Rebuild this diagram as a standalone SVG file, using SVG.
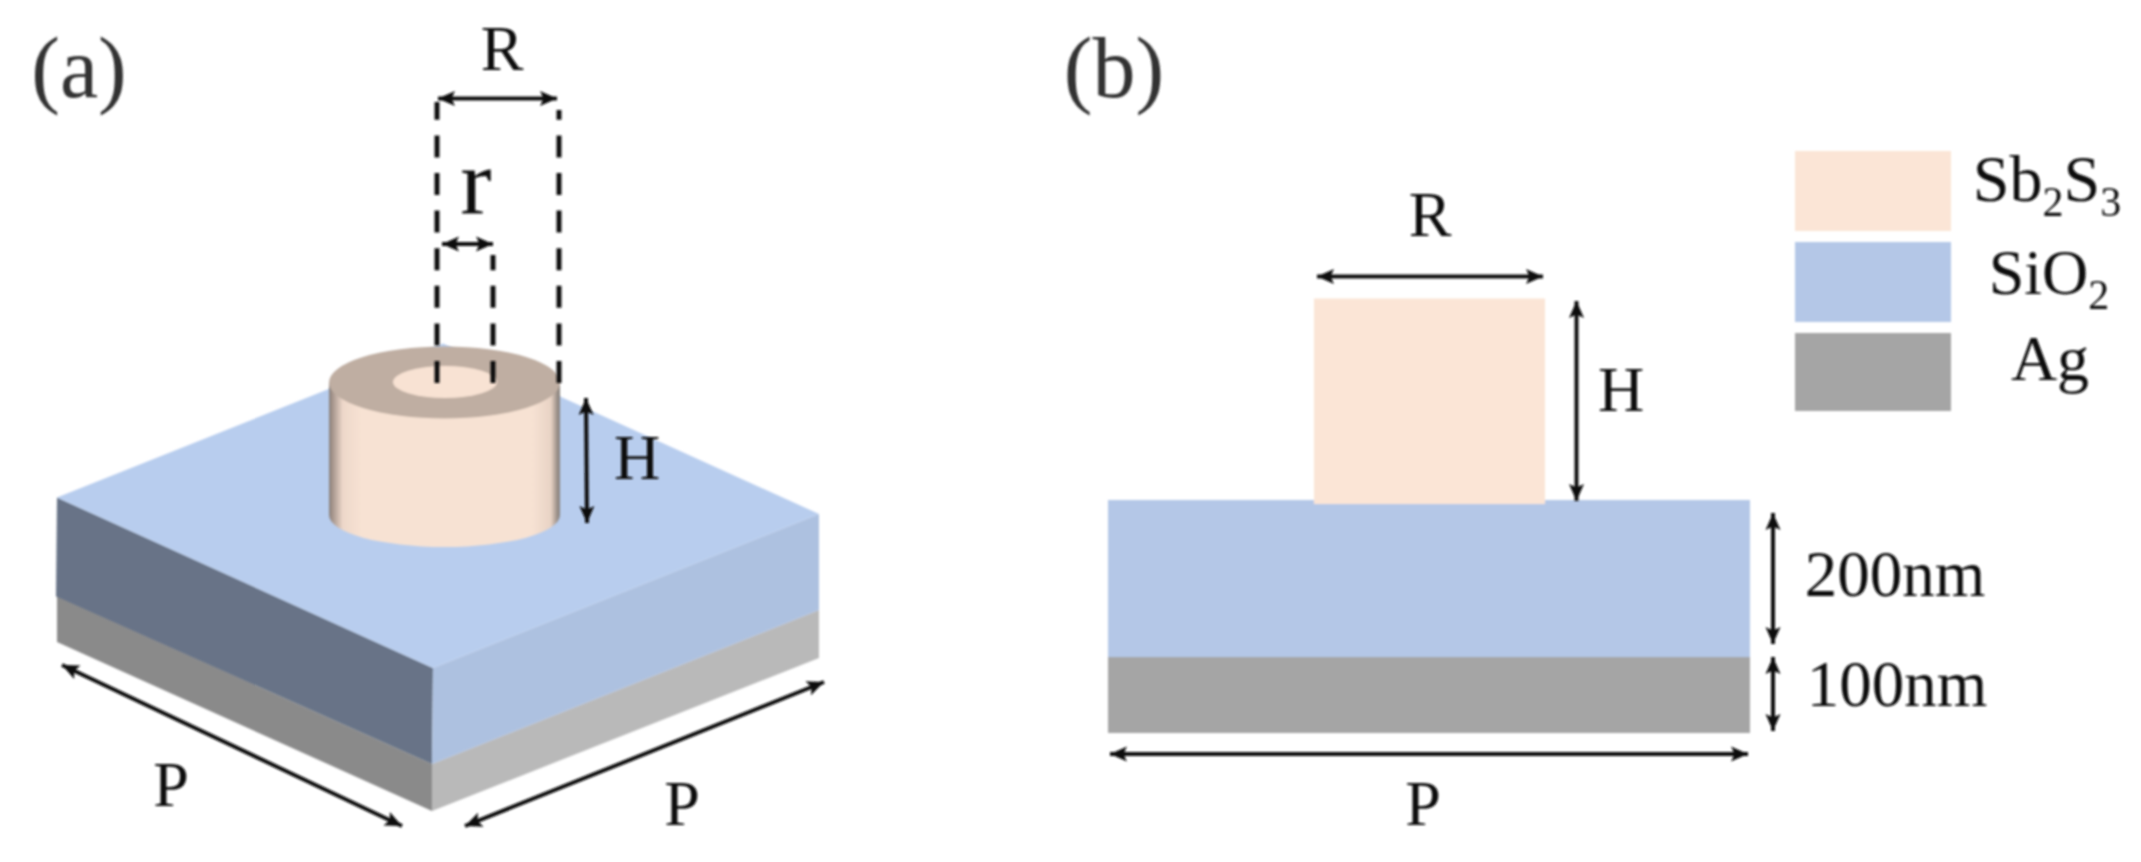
<svg xmlns="http://www.w3.org/2000/svg" width="2141" height="862" viewBox="0 0 2141 862">
<style>
svg>g{filter:url(#soft)}
text{font-family:"Liberation Serif","Times New Roman",serif;fill:#111;text-anchor:middle}
.dim{stroke:#111;stroke-width:4;fill:none;marker-start:url(#head);marker-end:url(#head)}
.dash{stroke:#111;stroke-width:5;fill:none;stroke-dasharray:22 15.6}
.sb{fill:#fbe5d6}.si{fill:#b4c7e7}.ag{fill:#a5a5a5}
.t60{font-size:64px}
.panel{font-size:86px;fill:#333}
</style>
<defs>
<filter id="soft" x="-2%" y="-2%" width="104%" height="104%"><feGaussianBlur stdDeviation="0.9"/></filter>
<marker id="head" markerUnits="userSpaceOnUse" markerWidth="22" markerHeight="20" viewBox="0 0 22 20" refX="20" refY="10" orient="auto-start-reverse">
<path d="M20,10 L3,2.500 L6.500,10 L3,17.500 Z" fill="#111"/>
</marker>
<linearGradient id="side" x1="0" x2="1" y1="0" y2="0">
<stop offset="0" stop-color="#86807c"/>
<stop offset="0.012" stop-color="#a09088"/>
<stop offset="0.06" stop-color="#eed8ca"/>
<stop offset="0.14" stop-color="#f7e2d3"/>
<stop offset="0.88" stop-color="#f7e2d3"/>
<stop offset="0.96" stop-color="#e8d3c5"/>
<stop offset="0.988" stop-color="#9a8f88"/>
<stop offset="1" stop-color="#86807c"/>
</linearGradient>
</defs>
<rect width="2141" height="862" fill="#fff"/>
<g id="panel-a-base">
<polygon points="57,596.500 432,764 432,811 57,642" fill="#8a8a8a"/>
<polygon points="432,764 819,610 819,658 432,811" fill="#b9b9b9"/>
<polygon points="57,497.500 433,668 432,764 56,596.500" fill="#677387"/>
<polygon points="433,668 819,514 819,610 432,764" fill="#adc1e0"/>
<polygon points="57,497.500 443,343.500 819,514 433,668" fill="#b8cdee"/>
</g>
<g id="panel-a-cylinder">
<path d="M329,382 L329,515 A115.500,32 0 0 0 560,515 L560,382 Z" fill="url(#side)"/>
<ellipse cx="444.500" cy="382.500" rx="115.500" ry="36" fill="#bfaea2"/>
<ellipse cx="445" cy="382" rx="52" ry="16" fill="#f8e2d3"/>
</g>
<g id="panel-b-stack">
<rect x="1108" y="500" width="642" height="157" class="si"/>
<rect x="1108" y="657" width="642" height="76" class="ag"/>
<rect x="1314" y="298.500" width="231" height="205.500" class="sb"/>
</g>
<g id="legend">
<rect x="1795" y="151" width="156" height="80" class="sb"/>
<rect x="1795" y="242" width="156" height="80" class="si"/>
<rect x="1795" y="333" width="156" height="78" class="ag"/>
<text x="2047" y="201" font-size="66">Sb<tspan font-size="42" dy="15">2</tspan><tspan dy="-15">S</tspan><tspan font-size="42" dy="15">3</tspan></text>
<text x="2049" y="294" class="t60">SiO<tspan font-size="42" dy="15">2</tspan></text>
<text x="2050" y="380" class="t60">Ag</text>
</g>
<g id="connectors">
<path class="dash" d="M437,383 V102"/>
<path class="dash" d="M559,383 V110"/>
<path class="dash" d="M493,383 V255"/>
<path class="dim" d="M438,98.500 H557"/>
<path class="dim" d="M442,244 H493"/>
<path class="dim" d="M586,398 L587,523"/>
<path class="dim" d="M62,665 L402,826"/>
<path class="dim" d="M465,826 L824,682"/>
<path class="dim" d="M1317,276.500 H1543"/>
<path class="dim" d="M1576.500,301 V501"/>
<path class="dim" d="M1773,513 V644"/>
<path class="dim" d="M1773,657 V731"/>
<path class="dim" d="M1110,754 H1748"/>
</g>
<g id="labels">
<text x="79" y="97" class="panel">(a)</text>
<text x="1114" y="97" class="panel">(b)</text>
<text x="502" y="70" class="t60">R</text>
<text x="476" y="213" font-size="94">r</text>
<text x="637" y="479" class="t60">H</text>
<text x="171" y="806" class="t60">P</text>
<text x="682" y="825" class="t60">P</text>
<text x="1430" y="236" class="t60">R</text>
<text x="1621" y="411" class="t60">H</text>
<text x="1895" y="596" font-size="65">200nm</text>
<text x="1897" y="706" font-size="65">100nm</text>
<text x="1423" y="825" class="t60">P</text>
</g>
</svg>
